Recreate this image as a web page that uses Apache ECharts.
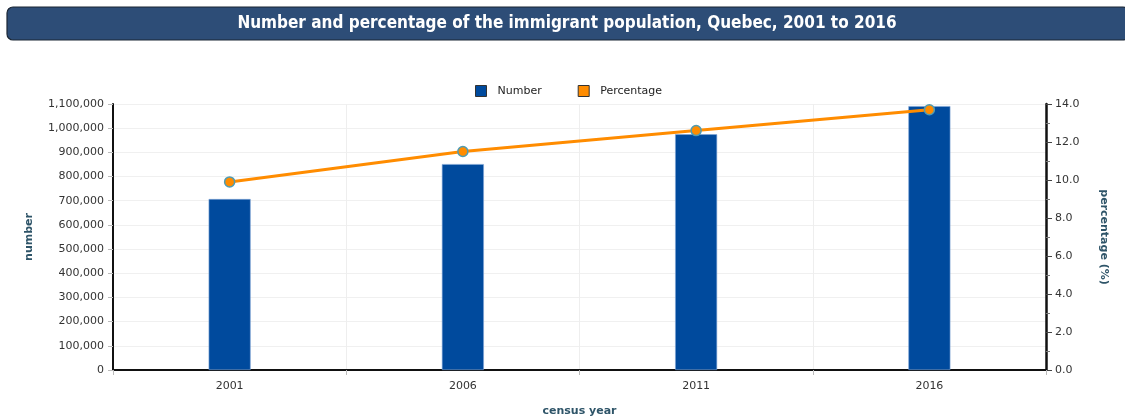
<!DOCTYPE html>
<html>
<head>
<meta charset="utf-8">
<script src="https://cdn.jsdelivr.net/npm/echarts@6/dist/echarts.min.js"></script>
<style>
  html, body { margin: 0; padding: 0; background: #ffffff; }
  #chart { width: 1125px; height: 417px; }
</style>
</head>
<body>
<div id="chart"></div>
<script>
// Census years on the category axis
const years = ['2001', '2006', '2011', '2016'];
// Immigrant population (number of persons)
const immigrantNumber = [706965, 851560, 974895, 1091305];
// Immigrants as a share of the total population (%)
const immigrantPercent = [9.9, 11.5, 12.6, 13.7];

const chart = echarts.init(document.getElementById('chart'));

const tickFont = { fontFamily: 'DejaVu Sans', fontSize: 11, color: '#333333' };
const axisNameStyle = { fontFamily: 'DejaVu Sans', fontSize: 11, fontWeight: 'bold', color: '#2e5468' };

chart.setOption({
  animation: false,
  graphic: [
    {
      type: 'rect',
      z: 0,
      shape: { x: 7, y: 7, width: 1122, height: 33, r: 6 },
      style: { fill: '#2d4d77', stroke: '#1b2634', lineWidth: 1.2 }
    }
  ],
  title: {
    text: 'Number and percentage of the immigrant population, Quebec, 2001 to 2016',
    left: 562,
    textAlign: 'center',
    top: 10,
    z: 5,
    textStyle: {
      fontFamily: 'DejaVu Sans Condensed',
      fontSize: 17,
      fontWeight: 'bold',
      color: '#ffffff'
    }
  },
  legend: {
    top: 80,
    left: 470,
    itemWidth: 11,
    itemHeight: 11,
    itemGap: 36,
    textStyle: { fontFamily: 'DejaVu Sans', fontSize: 11, color: '#222222', padding: [0, 0, 0, 6] },
    data: [
      { name: 'Number', icon: 'rect', itemStyle: { color: '#004a9d', borderColor: '#333333', borderWidth: 1 } },
      { name: 'Percentage', icon: 'rect', itemStyle: { color: '#ff8c00', borderColor: '#333333', borderWidth: 1 } }
    ]
  },
  grid: { left: 113, right: 79, top: 104, bottom: 47, containLabel: false, outerBoundsMode: 'none' },
  xAxis: {
    type: 'category',
    data: years,
    boundaryGap: true,
    name: 'census year',
    nameLocation: 'middle',
    nameGap: 36,
    nameTextStyle: axisNameStyle,
    axisLine: { lineStyle: { color: '#111111', width: 2 } },
    axisTick: { show: true, alignWithLabel: false, length: 5, lineStyle: { color: '#bbbbbb' } },
    axisLabel: Object.assign({ margin: 11 }, tickFont),
    splitLine: { show: true, lineStyle: { color: '#eeeeee', width: 1 } }
  },
  yAxis: [
    {
      type: 'value',
      min: 0,
      max: 1100000,
      interval: 100000,
      name: 'number',
      nameLocation: 'middle',
      nameRotate: 90,
      nameGap: 78,
      nameTextStyle: axisNameStyle,
      axisLine: { show: true, lineStyle: { color: '#111111', width: 2 } },
      axisTick: { show: true, length: 5, lineStyle: { color: '#bbbbbb' } },
      axisLabel: Object.assign({
        margin: 9,
        formatter: v => v.toLocaleString('en-US')
      }, tickFont),
      splitLine: { show: true, lineStyle: { color: '#f0f0f0', width: 1 } }
    },
    {
      type: 'value',
      min: 0,
      max: 14,
      interval: 2,
      position: 'right',
      name: 'percentage (%)',
      nameLocation: 'middle',
      nameRotate: -90,
      nameGap: 52,
      nameTextStyle: axisNameStyle,
      axisLine: { show: true, lineStyle: { color: '#111111', width: 2.5 } },
      axisTick: { show: true, length: 6, lineStyle: { color: '#444444' } },
      minorTick: { show: true, splitNumber: 2, length: 4, lineStyle: { color: '#777777' } },
      axisLabel: Object.assign({
        margin: 9,
        formatter: v => v.toFixed(1)
      }, tickFont),
      splitLine: { show: false }
    }
  ],
  series: [
    {
      name: 'Number',
      type: 'bar',
      yAxisIndex: 0,
      data: immigrantNumber,
      barWidth: 42,
      itemStyle: { color: '#004a9d', borderColor: '#7fa6d6', borderWidth: 0.6 },
      z: 2
    },
    {
      name: 'Percentage',
      type: 'line',
      yAxisIndex: 1,
      data: immigrantPercent,
      symbol: 'circle',
      symbolSize: 10,
      lineStyle: { color: '#ff8c00', width: 3 },
      itemStyle: { color: '#ff8c00', borderColor: '#4f9cb3', borderWidth: 1.5 },
      z: 4
    }
  ]
});
</script>
</body>
</html>
